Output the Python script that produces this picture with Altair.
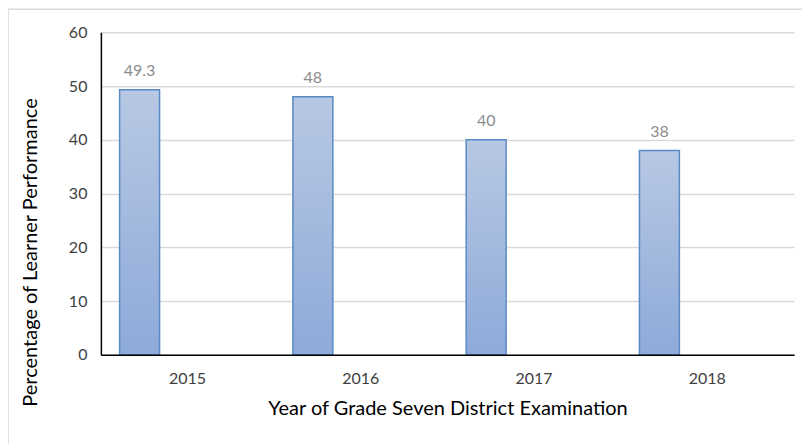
import altair as alt
import pandas as pd

years = ["2015", "2016", "2017", "2018"]
values = [49.3, 48, 40, 38]
labels = ["49.3", "48", "40", "38"]

df = pd.DataFrame({"year": years, "value": values, "label": labels})

FONT = "Lato"

grad = alt.Gradient(
    gradient="linear",
    stops=[alt.GradientStop(color="#b7c8e3", offset=0),
           alt.GradientStop(color="#8eaad9", offset=1)],
    x1=0, x2=0, y1=0, y2=1,
)

base = alt.Chart(df)

x_enc = alt.X("year:N", sort=years,
              scale=alt.Scale(paddingInner=0, paddingOuter=0),
              axis=alt.Axis(title="Year of Grade Seven District Examination",
                            labelAngle=0, labelFont=FONT, labelFontSize=16,
                            labelColor="#404040", labelPadding=16,
                            ticks=False, domainColor="#000000", domainWidth=1.5,
                            titleFont=FONT, titleFontSize=20, titleFontWeight="normal",
                            titleColor="#000000", titlePadding=12, zindex=1))
y_enc = alt.Y("value:Q",
              scale=alt.Scale(domain=[0, 60], nice=False),
              axis=alt.Axis(title="Percentage of Learner Performance",
                            values=[0, 10, 20, 30, 40, 50, 60],
                            labelFont=FONT, labelFontSize=16, labelColor="#404040",
                            labelPadding=14, ticks=False,
                            domainColor="#000000", domainWidth=1.5,
                            gridColor="#d9d9d9", gridWidth=1.5,
                            titleFont=FONT, titleFontSize=20, titleFontWeight="normal",
                            titleColor="#000000", titleX=-70, titleY=220,
                            titleAngle=270, titleAlign="center", titleBaseline="middle"))

bars = base.mark_bar(width=40, xOffset=-48, color=grad, stroke="#5a8ac6",
                     strokeWidth=1.5).encode(x=x_enc, y=y_enc)

text = base.mark_text(xOffset=-48, dy=-19, font=FONT, fontSize=16,
                      color="#8c8c8c").encode(x=alt.X("year:N", sort=years),
                                             y="value:Q", text="label:N")

border = alt.Chart(pd.DataFrame({"a": [0]})).mark_rect(
    fill=None, stroke="#d9d9d9", strokeWidth=1.5, clip=False
).encode(x=alt.value(-93), x2=alt.value(720), y=alt.value(-23), y2=alt.value(440))

chart = alt.layer(border, bars, text).properties(
    width=694, height=323,
    padding={"left": 93, "top": 24, "right": 8, "bottom": 90},
    autosize=alt.AutoSizeParams(type="none"),
).configure_view(stroke=None)

chart.save("out.html", embed_options={"renderer": "svg", "actions": False})
